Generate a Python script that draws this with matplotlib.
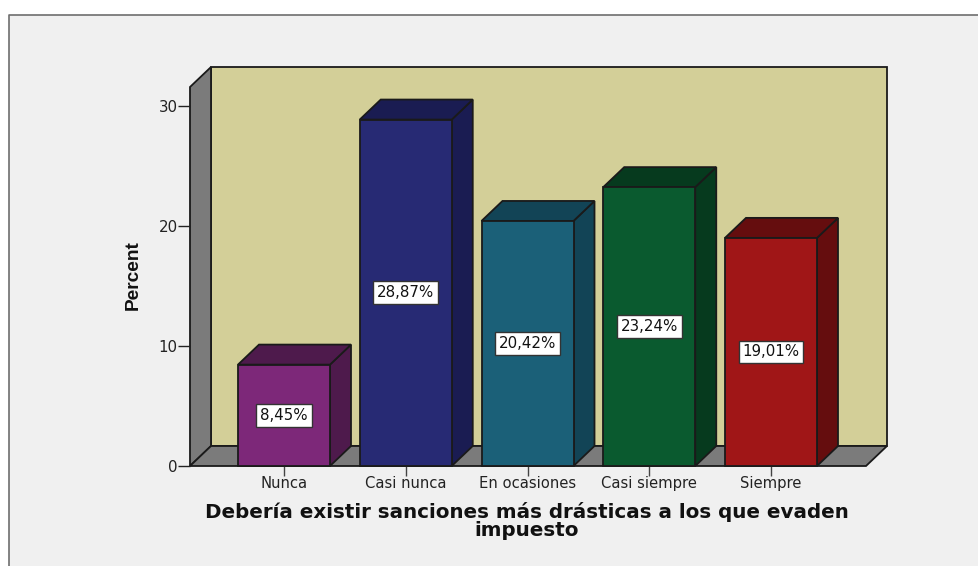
#!/usr/bin/env python
from __future__ import annotations

import matplotlib

matplotlib.use("Agg")
import matplotlib.pyplot as plt
from matplotlib.patches import Polygon, Rectangle

CATEGORIES = ["Nunca", "Casi nunca", "En ocasiones", "Casi siempre", "Siempre"]
PERCENTS = [8.45, 28.87, 20.42, 23.24, 19.01]
LABELS = ["8,45%", "28,87%", "20,42%", "23,24%", "19,01%"]
FRONT_COLORS = ["#7d2879", "#272a74", "#1b6078", "#0a5a2f", "#a01617"]
TOP_COLORS = ["#4e1a4c", "#1a1c52", "#124456", "#063a1e", "#650d0e"]
YTICKS = [0, 10, 20, 30]
XLABEL = "Debería existir sanciones más drásticas a los que evaden\nimpuesto"

W, H = 979, 566
PX_UNIT_X = 121.75  # px per category
PX_UNIT_Y = 12.0  # px per percent
BAR_W = 92 / PX_UNIT_X
DX = 21 / PX_UNIT_X
DY = 20 / PX_UNIT_Y
EDGE = "#1a1a1a"
SANS = ["Liberation Sans", "DejaVu Sans"]


def add_poly(ax, pts, color, lw=1.3, zorder=2):
    ax.add_patch(Polygon(pts, closed=True, facecolor=color, edgecolor=EDGE, linewidth=lw,
                         joinstyle="miter", clip_on=False, zorder=zorder))


def main() -> None:
    fig = plt.figure(figsize=(W / 100, H / 100), dpi=100, facecolor="white")

    # grey panel with the thin border on the top and left only
    fig.add_artist(Rectangle((9 / W, 0), 1 - 9 / W, 1 - 15 / H, transform=fig.transFigure,
                             facecolor="#f0f0f0", edgecolor="none", zorder=-2))
    fig.add_artist(plt.Line2D([9 / W, 9 / W, 1], [0, 1 - 15 / H, 1 - 15 / H], color="#6e6e6e",
                              linewidth=1.2, zorder=-1))

    # axes box = front plane of the chart, pixels 190..866 and 466..87
    ax = fig.add_axes([190 / W, 1 - 466 / H, (866 - 190) / W, (466 - 87) / H])
    x0 = -(284 - 190) / PX_UNIT_X
    x1 = x0 + (866 - 190) / PX_UNIT_X
    y1 = (466 - 87) / PX_UNIT_Y
    ax.set_xlim(x0, x1)
    ax.set_ylim(0, y1)
    ax.patch.set_visible(False)
    for spine in ax.spines.values():
        spine.set_visible(False)

    # back wall, side wall, floor
    add_poly(ax, [(x0 + DX, DY), (x1 + DX, DY), (x1 + DX, y1 + DY), (x0 + DX, y1 + DY)], "#d3cf98", zorder=1)
    add_poly(ax, [(x0, 0), (x0 + DX, DY), (x0 + DX, y1 + DY), (x0, y1)], "#7b7b7b", zorder=1)
    add_poly(ax, [(x0, 0), (x1, 0), (x1 + DX, DY), (x0 + DX, DY)], "#7b7b7b", zorder=1)

    for i, (value, front, top, label) in enumerate(zip(PERCENTS, FRONT_COLORS, TOP_COLORS, LABELS, strict=True)):
        left = i - BAR_W / 2
        right = i + BAR_W / 2
        add_poly(ax, [(right, 0), (right + DX, DY), (right + DX, value + DY), (right, value)], top, zorder=3)
        add_poly(ax, [(left, value), (right, value), (right + DX, value + DY), (left + DX, value + DY)], top, zorder=3)
        add_poly(ax, [(left, 0), (right, 0), (right, value), (left, value)], front, zorder=4)
        ax.text(i, value / 2, label, ha="center", va="center", fontsize=10.8, family="DejaVu Sans", color="#111111",
                zorder=5, bbox=dict(boxstyle="square,pad=0.26", facecolor="white", edgecolor="#333333", linewidth=1))

    ax.set_yticks(YTICKS)
    ax.set_xticks(range(len(CATEGORIES)))
    ax.set_xticklabels(CATEGORIES, family="DejaVu Sans", fontsize=10.6, color="#222222")
    ax.tick_params(axis="y", length=9, width=1, color="#222222", pad=0, labelsize=10.8, labelcolor="#222222")
    ax.tick_params(axis="x", length=7, width=1, color="#444444", pad=0)
    for tick in ax.get_yticklabels():
        tick.set_family("DejaVu Sans")

    fig.text(133 / W, 1 - 275 / H, "Percent", rotation=90, ha="center", va="center", family=SANS,
             fontsize=13.8, fontweight="bold", color="#111111")
    fig.text(527 / W, 1 - 521 / H, XLABEL, ha="center", va="center", family="DejaVu Sans", fontsize=14.3,
             fontweight="bold", color="#111111", linespacing=0.9)

    fig.savefig("out.png", dpi=100, facecolor=fig.get_facecolor())


if __name__ == "__main__":
    main()
